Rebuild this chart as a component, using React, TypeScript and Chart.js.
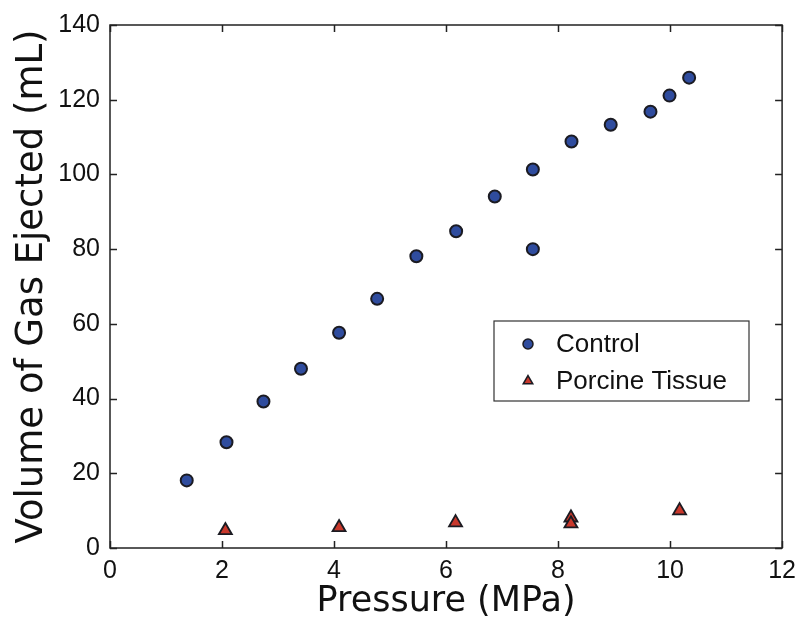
import React, { useEffect, useRef } from "react";
import { Chart, registerables } from "chart.js";

Chart.register(...registerables);

const controlPressure = [1.37, 2.08, 2.74, 3.41, 4.09, 4.77, 5.47, 6.18, 6.87, 7.55, 7.55, 8.24, 8.94, 9.65, 9.99, 10.34];
const controlVolume = [18.1, 28.3, 39.2, 48.0, 57.6, 66.7, 78.1, 84.8, 94.1, 101.3, 80.0, 108.8, 113.3, 116.8, 121.1, 125.9];

const porcinePressure = [2.06, 4.09, 6.17, 8.23, 8.23, 10.17];
const porcineVolume = [4.7, 5.5, 6.8, 8.1, 6.5, 10.0];

const xTicks = [0, 2, 4, 6, 8, 10, 12];
const yTicks = [0, 20, 40, 60, 80, 100, 120, 140];

const seriesNames = ["Control", "Porcine Tissue"];
const xTitle = "Pressure (MPa)";
const yTitle = "Volume of Gas Ejected (mL)";

const BLUE = "#2f4c9e";
const RED = "#c9382c";
const EDGE = "#1b1b22";
const AXIS = "#222222";

function drawMarker(ctx: CanvasRenderingContext2D, style: string, x: number, y: number, r: number, fill: string, stroke: string, bw: number) {
  ctx.save();
  ctx.beginPath();
  if (style === "triangle") {
    for (let i = 0; i < 3; i++) {
      const a = (i * 2 * Math.PI) / 3;
      const px = x + Math.sin(a) * r;
      const py = y - Math.cos(a) * r;
      if (i === 0) ctx.moveTo(px, py);
      else ctx.lineTo(px, py);
    }
    ctx.closePath();
  } else {
    ctx.arc(x, y, r, 0, Math.PI * 2);
  }
  ctx.fillStyle = fill;
  ctx.fill();
  ctx.lineWidth = bw;
  ctx.strokeStyle = stroke;
  ctx.stroke();
  ctx.restore();
}

const framePlugin = {
  id: "frame",
  afterDatasetsDraw(chart: any) {
    const { ctx, chartArea } = chart;
    const { left, right, top, bottom } = chartArea;
    const xs = chart.scales.x;
    const ys = chart.scales.y;
    const tl = 7;
    ctx.save();
    ctx.strokeStyle = AXIS;
    ctx.lineWidth = 1.5;
    ctx.strokeRect(left, top, right - left, bottom - top);
    ctx.beginPath();
    xTicks.forEach((v) => {
      const px = Math.round(xs.getPixelForValue(v)) + 0.5;
      ctx.moveTo(px, bottom);
      ctx.lineTo(px, bottom - tl);
      ctx.moveTo(px, top);
      ctx.lineTo(px, top + tl);
    });
    yTicks.forEach((v) => {
      const py = Math.round(ys.getPixelForValue(v)) + 0.5;
      ctx.moveTo(left, py);
      ctx.lineTo(left + tl, py);
      ctx.moveTo(right, py);
      ctx.lineTo(right - tl, py);
    });
    ctx.stroke();

    // legend box
    const bx = left + 384;
    const by = top + 296;
    const bwid = 255;
    const bh = 80;
    ctx.fillStyle = "#ffffff";
    ctx.fillRect(bx, by, bwid, bh);
    ctx.lineWidth = 1.2;
    ctx.strokeStyle = "#333333";
    ctx.strokeRect(bx, by, bwid, bh);
    const items = [
      { name: seriesNames[0], style: "circle", fill: BLUE, r: 5, dy: 23 },
      { name: seriesNames[1], style: "triangle", fill: RED, r: 5.5, dy: 60 },
    ];
    ctx.font = "26px 'Liberation Sans', Arial, sans-serif";
    ctx.textBaseline = "middle";
    ctx.textAlign = "left";
    items.forEach((it) => {
      drawMarker(ctx, it.style, bx + 34, by + it.dy, it.r, it.fill, EDGE, 1.5);
      ctx.fillStyle = "#111111";
      ctx.fillText(it.name, bx + 62, by + it.dy + 1);
    });
    ctx.restore();
  },
};

export default function App() {
  const ref = useRef<HTMLCanvasElement | null>(null);
  useEffect(() => {
    if (!ref.current) return;
    const chart = new Chart(ref.current, {
      type: "scatter",
      data: {
        datasets: [
          {
            label: seriesNames[0],
            data: controlPressure.map((x, i) => ({ x, y: controlVolume[i] })),
            pointStyle: "circle",
            pointRadius: 6,
            pointBackgroundColor: BLUE,
            pointBorderColor: EDGE,
            pointBorderWidth: 2,
          },
          {
            label: seriesNames[1],
            data: porcinePressure.map((x, i) => ({ x, y: porcineVolume[i] })),
            pointStyle: "triangle",
            pointRadius: 7.5,
            pointBackgroundColor: RED,
            pointBorderColor: EDGE,
            pointBorderWidth: 1.8,
          },
        ],
      },
      options: {
        responsive: false,
        animation: false,
        layout: { padding: { top: 23, right: 19, left: 0, bottom: 0 } },
        plugins: {
          legend: { display: false },
          tooltip: { enabled: false },
        },
        scales: {
          x: {
            type: "linear",
            min: 0,
            max: 12,
            afterFit: (s: any) => {
              s.height = 77;
            },
            afterBuildTicks: (s: any) => {
              s.ticks = xTicks.map((v) => ({ value: v }));
            },
            grid: { display: false, drawTicks: false },
            border: { display: false },
            ticks: {
              padding: 8,
              color: "#111111",
              font: { family: "'Liberation Sans', Arial, sans-serif", size: 25 },
            },
            title: {
              display: true,
              text: xTitle,
              color: "#111111",
              font: { family: "'DejaVu Sans', sans-serif", size: 35 },
              padding: { top: 0, bottom: 2 },
            },
          },
          y: {
            type: "linear",
            min: 0,
            max: 140,
            afterFit: (s: any) => {
              s.width = 110;
            },
            afterBuildTicks: (s: any) => {
              s.ticks = yTicks.map((v) => ({ value: v }));
            },
            grid: { display: false, drawTicks: false },
            border: { display: false },
            ticks: {
              padding: 10,
              color: "#111111",
              font: { family: "'Liberation Sans', Arial, sans-serif", size: 25 },
            },
            title: {
              display: true,
              text: yTitle,
              color: "#111111",
              font: { family: "'DejaVu Sans', sans-serif", size: 37 },
              padding: { top: 10, bottom: 0 },
            },
          },
        },
      },
      plugins: [framePlugin],
    });
    return () => chart.destroy();
  }, []);
  return (
    <div style={{ position: "fixed", left: 0, top: 0, width: 804, height: 625, background: "#ffffff" }}>
      <canvas ref={ref} width={804} height={625} />
    </div>
  );
}
